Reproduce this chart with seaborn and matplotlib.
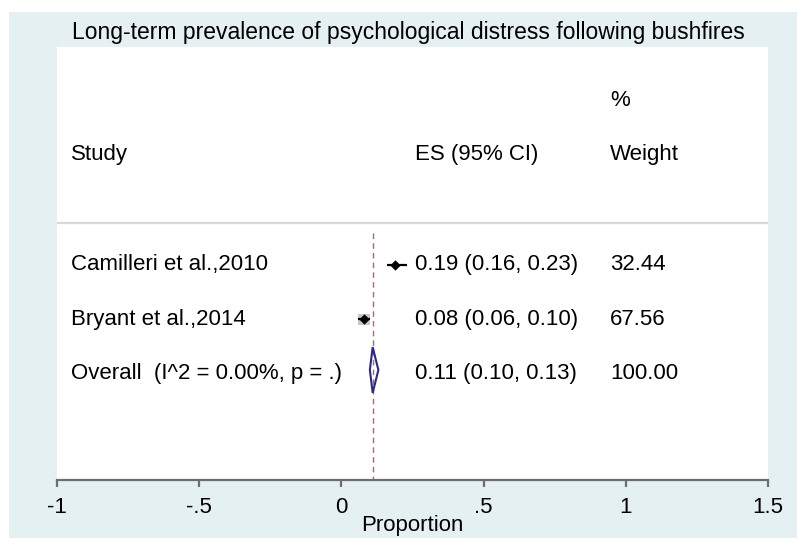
"""Forest plot: long-term prevalence of psychological distress following bushfires."""

import matplotlib
matplotlib.use("Agg")
import matplotlib.pyplot as plt
from matplotlib.patches import Rectangle, Polygon
import seaborn as sns
import pandas as pd

# Study data
studies = ["Camilleri et al.,2010", "Bryant et al.,2014"]
es = [0.19, 0.08]
ci_low = [0.16, 0.06]
ci_high = [0.23, 0.10]
weights = [32.44, 67.56]

# Pooled estimate
overall_label = "Overall  (I^2 = 0.00%, p = .)"
overall_es = 0.11
overall_low = 0.10
overall_high = 0.13
overall_weight = 100.00

xticks = [-1, -0.5, 0, 0.5, 1, 1.5]
xtick_labels = ["-1", "-.5", "0", ".5", "1", "1.5"]

df = pd.DataFrame({"study": studies, "es": es, "lo": ci_low, "hi": ci_high,
                   "weight": weights})
df["row"] = range(len(df))
overall_row = len(df)

sns.set_theme(style="white")
plt.rcParams["font.family"] = ["Liberation Sans", "DejaVu Sans"]
plt.rcParams["text.color"] = "black"
plt.rcParams["xtick.color"] = "black"
plt.rcParams["axes.labelcolor"] = "black"

fig = plt.figure(figsize=(7.97, 5.38), dpi=100)
fig.patch.set_facecolor("white")
# light blue background panel
fig.patches.append(Rectangle((9 / 797, 0), 1, 1 - 12 / 538, transform=fig.transFigure,
                             facecolor="#e5f0f2", edgecolor="none", zorder=-5))

ax = fig.add_axes([57 / 797, 1 - 480 / 538, 711 / 797, 433 / 538])
ax.set_facecolor("white")
ax.set_xlim(-1, 1.5)
ax.set_ylim(3.95, -4.0)

# weight boxes (side proportional to weight)
box_scale = 0.041 / 67.56
for _, r in df.iterrows():
    w = r["weight"] * box_scale
    h = w * 284.4 / 54.5
    ax.add_patch(Rectangle((r["es"] - w / 2, r["row"] - h / 2), w, h,
                           facecolor="#c8c8c8", edgecolor="none", zorder=2))

# confidence intervals and point estimates
ax.hlines(df["row"], df["lo"], df["hi"], color="black", lw=1.6, zorder=3)
sns.scatterplot(data=df, x="es", y="row", marker="D", color="black", s=28,
                edgecolor="black", linewidth=0, zorder=4, ax=ax, legend=False)

# pooled diamond
dh = 0.42
yc = overall_row - 0.07
diamond = Polygon([(overall_low, yc), (overall_es, yc - dh),
                   (overall_high, yc), (overall_es, yc + dh)],
                  closed=True, facecolor="none", edgecolor="#2a2a8a", lw=1.5, zorder=3)
ax.add_patch(diamond)

# overall effect line
ax.vlines(overall_es, -0.59, 3.95, colors="#d05a5a", linestyles=(0, (4, 3)), lw=1.0, zorder=2)

# header divider
ax.axhline(-0.77, color="#d8d8d8", lw=1.6, zorder=1)

fs = 16
x_study, x_es, x_wt = -0.951, 0.259, 0.944
ax.text(x_study, -2.02, "Study", fontsize=fs, va="center", ha="left")
ax.text(x_es, -2.02, "ES (95% CI)", fontsize=fs, va="center", ha="left")
ax.text(x_wt, -3.01, "%", fontsize=fs, va="center", ha="left")
ax.text(x_wt, -2.02, "Weight", fontsize=fs, va="center", ha="left")

for _, r in df.iterrows():
    ax.text(x_study, r["row"], r["study"], fontsize=fs, va="center", ha="left")
    ax.text(x_es, r["row"], f"{r['es']:.2f} ({r['lo']:.2f}, {r['hi']:.2f})",
            fontsize=fs, va="center", ha="left")
    ax.text(x_wt, r["row"], f"{r['weight']:.2f}", fontsize=fs, va="center", ha="left")

ax.text(x_study, overall_row, overall_label, fontsize=fs, va="center", ha="left")
ax.text(x_es, overall_row, f"{overall_es:.2f} ({overall_low:.2f}, {overall_high:.2f})",
        fontsize=fs, va="center", ha="left")
ax.text(x_wt, overall_row, f"{overall_weight:.2f}", fontsize=fs, va="center", ha="left")

# axes styling
sns.despine(ax=ax, left=True, top=True, right=True)
ax.spines["bottom"].set_color("#6e6e6e")
ax.spines["bottom"].set_linewidth(1.6)
ax.set_yticks([])
ax.set_xticks(xticks)
ax.set_xticklabels(xtick_labels, fontsize=16)
ax.tick_params(axis="x", direction="out", length=5, width=1.6, color="#6e6e6e",
               labelcolor="black", pad=7, bottom=True)
ax.set_xlabel("Proportion", fontsize=16, labelpad=-2)
ax.set_ylabel("")

fig.text(408.5 / 797, 1 - 33 / 538, "Long-term prevalence of psychological distress following bushfires",
         fontsize=16.5, ha="center", va="center")

fig.savefig("out.png", dpi=100)
plt.close(fig)
